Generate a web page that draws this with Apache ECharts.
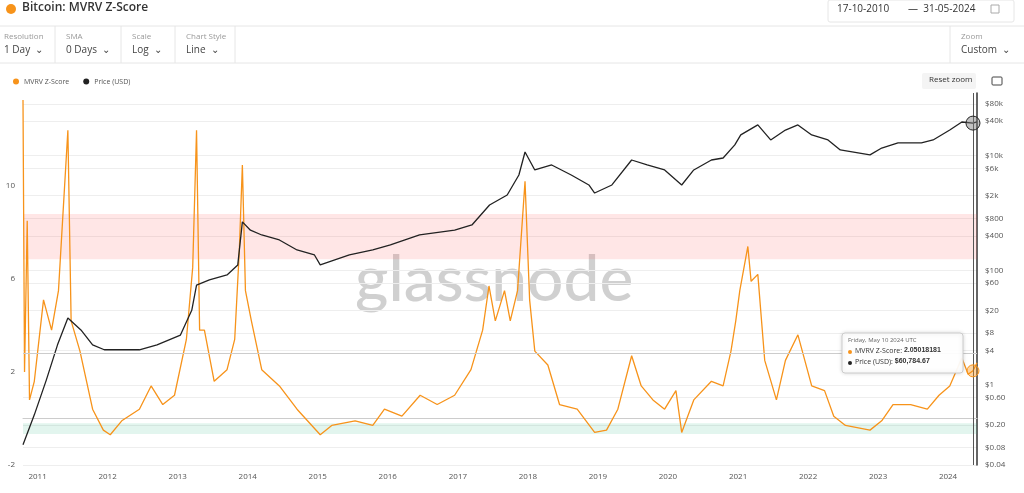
<!DOCTYPE html>
<html><head><meta charset="utf-8">
<script src="https://cdn.jsdelivr.net/npm/echarts@6/dist/echarts.min.js"></script>
<style>html,body{margin:0;background:#fff}#main{width:1024px;height:493px}</style>
</head><body><div id="main"></div>
<script>
var zDates = ['2010-10-17','2010-10-25','2010-11-08','2010-11-20','2010-12-15','2011-02-01','2011-03-15','2011-04-20','2011-06-08','2011-06-25','2011-08-10','2011-10-15','2011-12-10','2012-01-15','2012-03-15','2012-06-15','2012-08-15','2012-10-15','2012-12-15','2013-02-15','2013-03-20','2013-04-09','2013-04-25','2013-05-20','2013-07-10','2013-09-15','2013-10-25','2013-11-18','2013-12-04','2013-12-20','2014-01-20','2014-03-15','2014-06-15','2014-09-15','2015-01-14','2015-03-15','2015-07-15','2015-10-15','2015-12-15','2016-03-15','2016-06-18','2016-09-15','2016-12-15','2017-03-10','2017-05-10','2017-06-12','2017-07-15','2017-09-01','2017-10-01','2017-11-08','2017-12-17','2018-01-10','2018-02-06','2018-04-15','2018-06-15','2018-09-15','2018-12-15','2019-02-15','2019-04-15','2019-06-26','2019-08-15','2019-10-15','2019-12-15','2020-02-12','2020-03-13','2020-05-15','2020-08-15','2020-10-15','2020-11-25','2020-12-20','2021-01-10','2021-02-21','2021-03-10','2021-04-14','2021-05-20','2021-07-20','2021-09-05','2021-11-09','2022-01-20','2022-03-28','2022-05-15','2022-07-15','2022-11-20','2023-01-20','2023-03-20','2023-06-20','2023-09-15','2023-11-15','2024-01-10','2024-03-13','2024-04-15','2024-05-10','2024-05-31'];
var zVals = [13.7,2.0,8.5,0.8,1.6,5.1,3.8,5.5,12.4,4.2,2.9,0.4,-0.5,-0.7,-0.1,0.4,1.4,0.6,1.0,3.4,6.5,12.4,3.8,3.8,1.6,2.1,3.4,7.2,10.9,5.5,4.2,2.1,1.4,0.4,-0.7,-0.3,-0.1,-0.3,0.4,0.1,1.0,0.6,1.0,2.1,3.8,5.7,4.2,5.5,4.2,5.5,10.2,5.1,2.9,2.3,0.6,0.4,-0.6,-0.5,0.4,2.7,1.4,0.8,0.4,1.2,-0.6,0.8,1.6,1.4,2.9,4.2,5.5,7.4,5.9,6.2,2.5,0.8,2.5,3.6,1.4,1.2,0.1,-0.3,-0.5,-0.1,0.6,0.6,0.4,1.0,1.4,2.6,1.9,2.05,2.4];

var pDates = ['2010-10-17','2010-12-15','2011-02-15','2011-04-15','2011-06-08','2011-08-15','2011-10-15','2011-12-15','2012-06-15','2012-09-15','2013-01-15','2013-03-15','2013-04-09','2013-06-15','2013-09-15','2013-11-10','2013-12-04','2014-01-15','2014-03-15','2014-06-15','2014-09-15','2014-12-15','2015-01-14','2015-06-15','2015-10-15','2016-01-15','2016-06-15','2016-12-15','2017-03-15','2017-06-15','2017-09-15','2017-11-15','2017-12-17','2018-02-06','2018-05-05','2018-08-15','2018-11-15','2018-12-15','2019-03-15','2019-06-26','2019-09-15','2019-12-15','2020-03-13','2020-05-15','2020-08-15','2020-10-15','2020-12-15','2021-01-15','2021-04-14','2021-06-20','2021-09-05','2021-11-09','2022-01-20','2022-04-15','2022-06-18','2022-11-20','2023-01-20','2023-04-15','2023-08-15','2023-10-15','2024-01-10','2024-03-13','2024-05-10','2024-05-31'];
var pVals = [0.09,0.3,1.2,5.0,14.7,9.1,5.0,4.1,4.1,5.0,7.4,20,55,68,83,124,700,500,413,338,226,185,124,185,226,277,413,500,617,1380,2060,4600,11600,5630,6880,4600,3080,2230,3080,8400,6880,5630,3080,5630,8400,9100,15400,23000,34400,18800,28000,34400,23000,18800,12600,10300,13600,16700,16700,18800,28000,38700,37000,38700];

var zTicks = [-2,2,6,10];
var pTicks = [0.04,0.08,0.2,0.6,1,4,8,20,60,100,400,800,2000,6000,10000,40000,80000];
var years = [2011,2012,2013,2014,2015,2016,2017,2018,2019,2020,2021,2022,2023,2024];

var zData = zDates.map(function (d, i) { return [d, zVals[i]]; });
var pData = pDates.map(function (d, i) { return [d, pVals[i]]; });
var yearTs = years.map(function (y) { return Date.UTC(y, 0, 1); });

function fmtPrice(v) {
    if (v >= 1000) return '$' + (v / 1000) + 'k';
    if (v < 1) return '$' + v.toFixed(2);
    return '$' + v;
}

var myChart = echarts.init(document.getElementById('main'));
var grey = '#999', f = 'Open Sans';
var option = {
    animation: false,
    textStyle: { fontFamily: f },
    graphic: [
        { type: 'circle', shape: { cx: 11, cy: 9, r: 5 }, style: { fill: '#f7931a' } },
        { type: 'text', left: 22, top: 2, style: { text: 'Bitcoin: MVRV Z-Score', fontSize: 12, fontWeight: 600, fill: '#333', fontFamily: f } },
        { type: 'line', shape: { x1: 0, y1: 26, x2: 1024, y2: 26 }, style: { stroke: '#e6e6e6' } },
        { type: 'line', shape: { x1: 0, y1: 63, x2: 1024, y2: 63 }, style: { stroke: '#e6e6e6' } },
        { type: 'rect', shape: { x: 828, y: 0, width: 186, height: 22, r: 2 }, style: { fill: '#fff', stroke: '#e6e6e6' } },
        { type: 'text', left: 837, top: 4, style: { text: '17-10-2010', fontSize: 10, fill: '#333', fontFamily: f } },
        { type: 'text', left: 908, top: 4, style: { text: '—  31-05-2024', fontSize: 10, fill: '#333', fontFamily: f } },
        { type: 'rect', shape: { x: 991, y: 5, width: 8, height: 8 }, style: { fill: 'none', stroke: '#aaa' } },
        { type: 'text', left: 4, top: 33, style: { text: 'Resolution', fontSize: 8, fill: grey, fontFamily: f } },
        { type: 'text', left: 4, top: 45, style: { text: '1 Day  ⌄', fontSize: 10, fill: '#444', fontFamily: f } },
        { type: 'text', left: 66, top: 33, style: { text: 'SMA', fontSize: 8, fill: grey, fontFamily: f } },
        { type: 'text', left: 66, top: 45, style: { text: '0 Days  ⌄', fontSize: 10, fill: '#444', fontFamily: f } },
        { type: 'text', left: 132, top: 33, style: { text: 'Scale', fontSize: 8, fill: grey, fontFamily: f } },
        { type: 'text', left: 132, top: 45, style: { text: 'Log  ⌄', fontSize: 10, fill: '#444', fontFamily: f } },
        { type: 'text', left: 186, top: 33, style: { text: 'Chart Style', fontSize: 8, fill: grey, fontFamily: f } },
        { type: 'text', left: 186, top: 45, style: { text: 'Line  ⌄', fontSize: 10, fill: '#444', fontFamily: f } },
        { type: 'text', left: 961, top: 33, style: { text: 'Zoom', fontSize: 8, fill: grey, fontFamily: f } },
        { type: 'text', left: 961, top: 45, style: { text: 'Custom  ⌄', fontSize: 10, fill: '#444', fontFamily: f } },
        { type: 'line', shape: { x1: 55, y1: 26, x2: 55, y2: 63 }, style: { stroke: '#e6e6e6' } },
        { type: 'line', shape: { x1: 121, y1: 26, x2: 121, y2: 63 }, style: { stroke: '#e6e6e6' } },
        { type: 'line', shape: { x1: 175, y1: 26, x2: 175, y2: 63 }, style: { stroke: '#e6e6e6' } },
        { type: 'line', shape: { x1: 235, y1: 26, x2: 235, y2: 63 }, style: { stroke: '#e6e6e6' } },
        { type: 'line', shape: { x1: 950, y1: 26, x2: 950, y2: 63 }, style: { stroke: '#e6e6e6' } },
        { type: 'rect', shape: { x: 922, y: 73, width: 54, height: 16, r: 2 }, style: { fill: '#f4f4f4' } },
        { type: 'text', left: 929, top: 76, style: { text: 'Reset zoom', fontSize: 8, fill: '#333', fontFamily: f } },
        { type: 'rect', shape: { x: 992, y: 77, width: 10, height: 8, r: 1 }, style: { fill: 'none', stroke: '#444' } },
        { type: 'text', left: 355, top: 248, z: 0, style: { text: 'glassnode', fontSize: 64, fontWeight: 500, fill: 'rgba(120,120,120,0.35)', fontFamily: 'Lato' } },
        { type: 'rect', z: 100, shape: { x: 842, y: 333, width: 121, height: 40, r: 3 }, style: { fill: 'rgba(255,255,255,0.95)', stroke: '#ccc', shadowBlur: 4, shadowColor: 'rgba(0,0,0,0.15)' } },
        { type: 'text', z: 101, left: 848, top: 337, style: { text: 'Friday, May 10 2024 UTC', fontSize: 6, fill: '#666', fontFamily: f } },
        { type: 'circle', z: 101, shape: { cx: 850, cy: 352, r: 2 }, style: { fill: '#f7931a' } },
        { type: 'text', z: 101, left: 855, top: 347, style: { text: 'MVRV Z-Score: {b|2.05018181}', fontSize: 7, fill: '#333', fontFamily: f, rich: { b: { fontWeight: 700, fontSize: 7 } } } },
        { type: 'circle', z: 101, shape: { cx: 850, cy: 363, r: 2 }, style: { fill: '#222' } },
        { type: 'text', z: 101, left: 855, top: 358, style: { text: 'Price (USD): {b|$60,784.67}', fontSize: 7, fill: '#333', fontFamily: f, rich: { b: { fontWeight: 700, fontSize: 7 } } } }
    ],
    legend: {
        left: 8, top: 73, itemWidth: 6, itemHeight: 6, itemGap: 14, icon: 'circle',
        textStyle: { fontSize: 7, color: '#555' },
        data: ['MVRV Z-Score', 'Price (USD)']
    },
    grid: { left: 23, right: 47, top: 93, bottom: 28 },
    xAxis: {
        type: 'time', min: '2010-10-17', max: '2024-05-31',
        axisLine: { lineStyle: { color: '#ccc' } },
        axisTick: { show: false },
        splitLine: { show: false },
        axisLabel: { customValues: yearTs, formatter: '{yyyy}', fontSize: 8, color: '#555' }
    },
    yAxis: [{
        type: 'value', min: -2, max: 14, position: 'left',
        axisLine: { show: false }, axisTick: { show: false },
        splitLine: { show: false },
        axisLabel: { customValues: zTicks, fontSize: 8, color: '#555', margin: 8 }
    }, {
        type: 'log', min: 0.04, max: 124000, position: 'right', logBase: 10,
        axisLine: { show: true, lineStyle: { color: '#333', width: 1.5 } },
        axisTick: { show: false, customValues: pTicks },
        splitLine: { show: true, lineStyle: { color: '#eee' } },
        axisLabel: { customValues: pTicks, formatter: fmtPrice, fontSize: 8, color: '#555', margin: 8 }
    }],
    series: [{
        name: 'MVRV Z-Score', type: 'line', data: zData, yAxisIndex: 0,
        showSymbol: false, color: '#f7931a', lineStyle: { width: 1.3 },
        markArea: {
            silent: true,
            data: [
                [{ yAxis: 6.85, itemStyle: { color: 'rgba(255,90,90,0.15)' } }, { yAxis: 8.8 }],
                [{ yAxis: -0.67, itemStyle: { color: 'rgba(60,190,140,0.15)' } }, { yAxis: -0.2 }]
            ]
        },
        markLine: {
            silent: true, symbol: 'none', label: { show: false },
            data: [
                { xAxis: '2024-05-10', lineStyle: { color: '#555', type: 'solid', width: 1 } },
                { yAxis: 2.8, lineStyle: { color: '#ccc', type: 'solid', width: 1 } }
            ]
        },
        markPoint: {
            symbol: 'circle', symbolSize: 12, label: { show: false },
            itemStyle: { color: 'rgba(247,147,26,0.4)', borderColor: '#f7931a', borderWidth: 1 },
            data: [{ coord: ['2024-05-10', 2.05] }]
        }
    }, {
        name: 'Price (USD)', type: 'line', data: pData, yAxisIndex: 1,
        showSymbol: false, color: '#222', lineStyle: { width: 1.3 },
        markPoint: {
            symbol: 'circle', symbolSize: 14, label: { show: false },
            itemStyle: { color: 'rgba(120,120,120,0.45)', borderColor: '#222', borderWidth: 1 },
            data: [{ coord: ['2024-05-10', 37000] }]
        }
    }]
};
myChart.setOption(option);
</script>
</body></html>
